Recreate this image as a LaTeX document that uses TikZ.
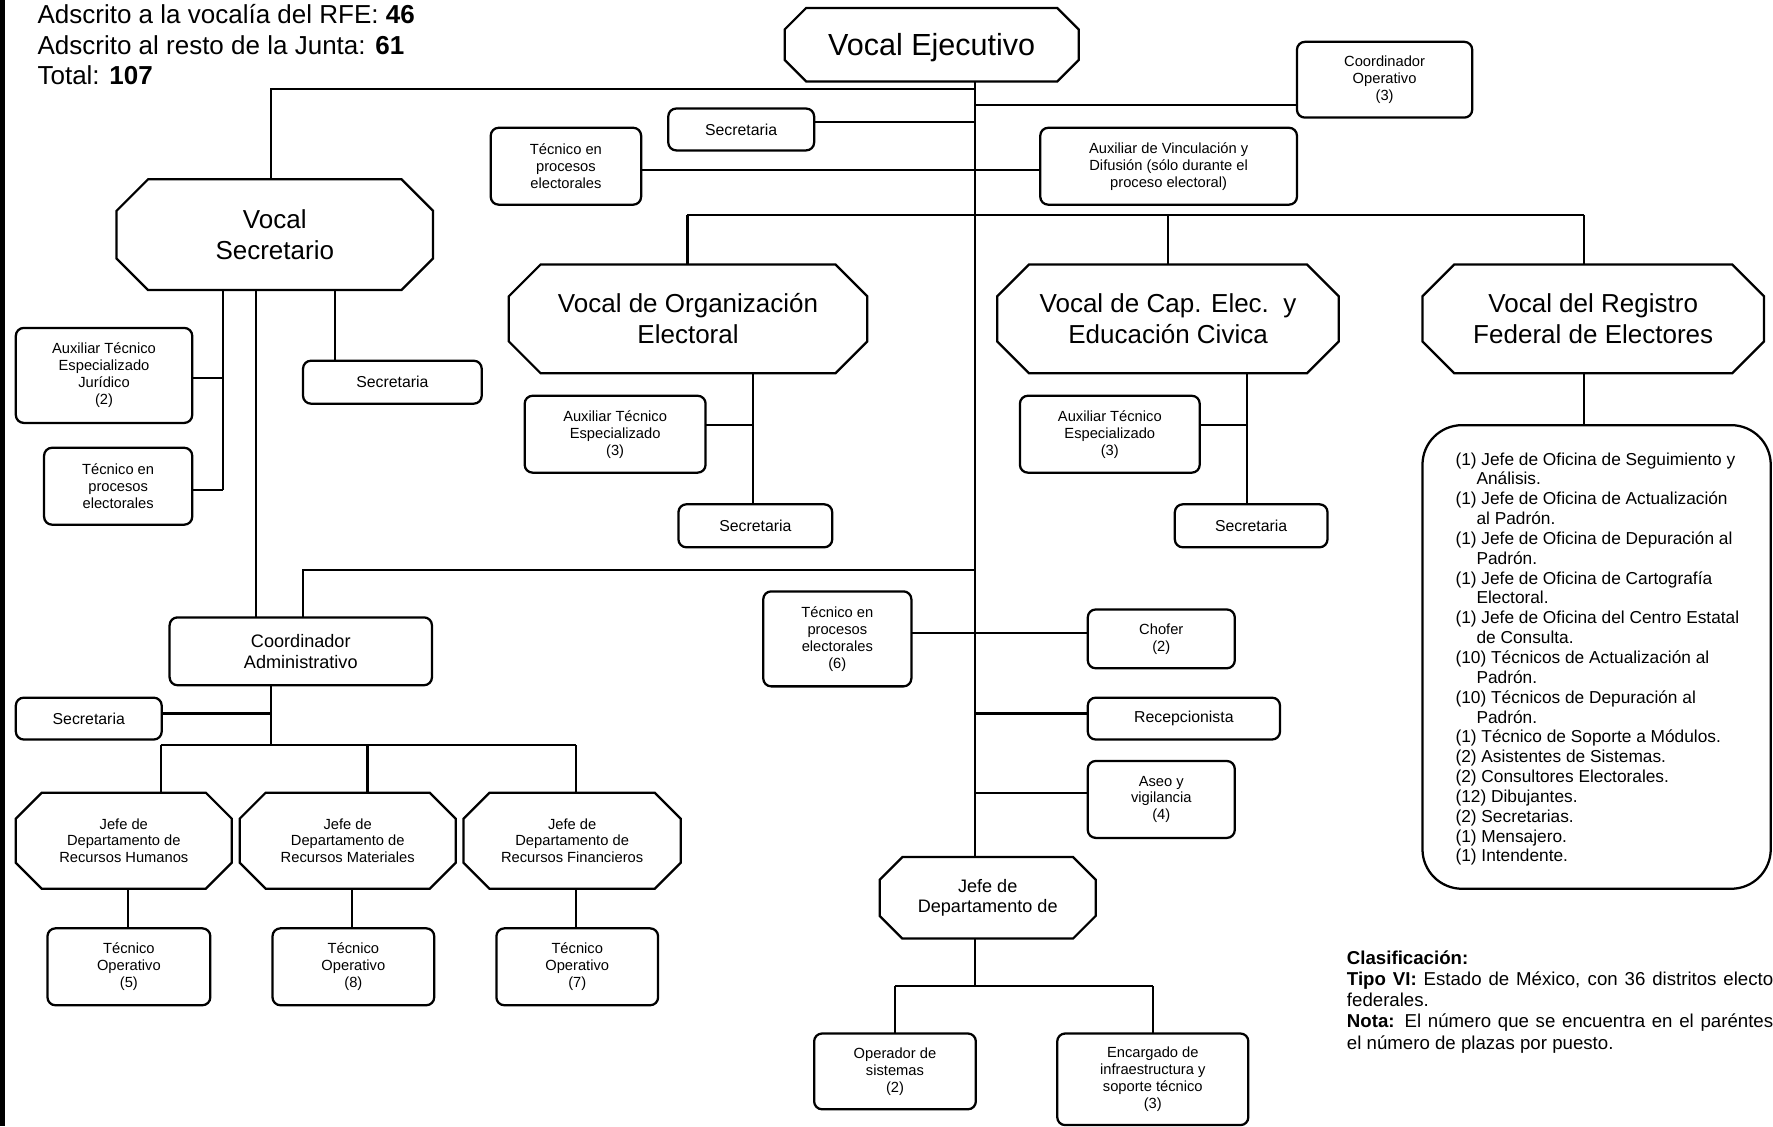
\documentclass[tikz,border=0pt]{standalone}
\usepackage{fontspec}
\setmainfont{Liberation Sans}
\usetikzlibrary{calc}

\newcommand\fVE{\fontsize{27}{31}\selectfont}
\newcommand\fVoc{\fontsize{23}{27.5}\selectfont}
\newcommand\fMid{\fontsize{16}{18.5}\selectfont}
\newcommand\fSm{\fontsize{13}{15}\selectfont}
\newcommand\fSec{\fontsize{14}{16}\selectfont}
\newcommand\fHead{\fontsize{23}{26.8}\selectfont}
\newcommand\fList{\fontsize{15.3}{17.55}\selectfont}
\newcommand\fClas{\fontsize{16.5}{18.6}\selectfont}

% name, cx, cy, w, h, cut, font, text
\newcommand{\octnode}[8]{%
  \node[octtext, minimum width=#4pt, minimum height=#5pt, font=#7] (#1) at (#2,#3) {#8};
  \draw[boxline] ($(#1.north west)+(#6pt,0pt)$) -- ($(#1.north east)+(-#6pt,0pt)$)
    -- ($(#1.north east)+(0pt,-#6pt)$) -- ($(#1.south east)+(0pt,#6pt)$)
    -- ($(#1.south east)+(-#6pt,0pt)$) -- ($(#1.south west)+(#6pt,0pt)$)
    -- ($(#1.south west)+(0pt,#6pt)$) -- ($(#1.north west)+(0pt,-#6pt)$) -- cycle;
}

\begin{document}
\begin{tikzpicture}[x=1pt,y=-1pt,
  conn/.style={line width=1.8pt},
  boxline/.style={line width=2pt, line join=miter},
  box/.style={draw, line width=2pt, rounded corners=7pt, align=center, inner sep=0pt, outer sep=0pt, font=\fSm},
  octtext/.style={align=center, inner sep=0pt, outer sep=0pt}]
\useasboundingbox (0,0) rectangle (1568,996);
\fill (0,0) rectangle (4,996);

% header
\node[anchor=north west, inner sep=0pt, align=left, font=\fHead] (head) at (33,4)
  {Adscrito a la vocalía del RFE: \textbf{46}\\Adscrito al resto de la Junta: \textbf{61}\\Total: \textbf{107}};

% octagons
\octnode{ve}{824}{39.5}{260}{65}{19}{\fVE}{\raisebox{-9.7pt}[0pt][0pt]{Vocal Ejecutivo}}
\octnode{vs}{243}{207.5}{280}{98}{28}{\fVoc}{Vocal\\Secretario}
\octnode{voe}{608.5}{282}{317}{96}{28}{\fVoc}{Vocal de Organización\\Electoral}
\octnode{vce}{1033}{282}{302}{96}{28}{\fVoc}{Vocal de Cap. Elec.\ \ y\\Educación Civica}
\octnode{vrfe}{1409}{282}{302}{96}{28}{\fVoc}{Vocal del Registro\\Federal de Electores}
\octnode{jrh}{109.5}{743.5}{191}{85}{23}{\fSm}{Jefe de\\Departamento de\\Recursos Humanos}
\octnode{jrm}{307.5}{743.5}{191}{85}{23}{\fSm}{Jefe de\\Departamento de\\Recursos Materiales}
\octnode{jrf}{506}{743.5}{192}{85}{23}{\fSm}{Jefe de\\Departamento de\\Recursos Financieros}
\octnode{jdd}{873.5}{794}{191}{72}{20}{\fMid}{Jefe de\\Departamento de}

% boxes
\node[box, minimum width=155pt, minimum height=67pt] (coordop) at (1224.5,70.5) {Coordinador\\Operativo\\(3)};
\node[box, minimum width=129pt, minimum height=37pt, font=\fSec] (sec1) at (655.5,114.5) {Secretaria};
\node[box, minimum width=133pt, minimum height=68pt] (tec1) at (500.5,147) {Técnico en\\procesos\\electorales};
\node[box, minimum width=227pt, minimum height=68pt] (auxvin) at (1033.5,147) {Auxiliar de Vinculación y\\Difusión (sólo durante el\\proceso electoral)};
\node[box, minimum width=156pt, minimum height=84pt] (auxjur) at (92,332) {Auxiliar Técnico\\Especializado\\Jurídico\\(2)};
\node[box, minimum width=131pt, minimum height=68pt] (tecvs) at (104.5,430) {Técnico en\\procesos\\electorales};
\node[box, minimum width=158pt, minimum height=38pt, font=\fSec] (secvs) at (347,338) {Secretaria};
\node[box, minimum width=232pt, minimum height=60pt, font=\fMid] (coordadm) at (266,576) {Coordinador\\Administrativo};
\node[box, minimum width=129pt, minimum height=37pt, font=\fSec] (secca) at (78.5,635.5) {Secretaria};
\node[box, minimum width=144pt, minimum height=68pt] (to5) at (114,855) {Técnico\\Operativo\\(5)};
\node[box, minimum width=143pt, minimum height=68pt] (to8) at (312.5,855) {Técnico\\Operativo\\(8)};
\node[box, minimum width=143pt, minimum height=68pt] (to7) at (510.5,855) {Técnico\\Operativo\\(7)};
\node[box, minimum width=160pt, minimum height=68pt] (auxoe) at (544,384) {Auxiliar Técnico\\Especializado\\(3)};
\node[box, minimum width=136pt, minimum height=38pt, font=\fSec] (secoe) at (668,465) {Secretaria};
\node[box, minimum width=159pt, minimum height=68pt] (auxce) at (981.5,384) {Auxiliar Técnico\\Especializado\\(3)};
\node[box, minimum width=135pt, minimum height=38pt, font=\fSec] (secce) at (1106.5,465) {Secretaria};
\node[box, minimum width=131pt, minimum height=84pt] (tec6) at (740.5,565) {Técnico en\\procesos\\electorales\\(6)};
\node[box, minimum width=130pt, minimum height=52pt] (chofer) at (1027,565) {Chofer\\(2)};
\node[box, minimum width=170pt, minimum height=37pt, font=\fSec] (recep) at (1047,635.5) {Recepcionista};
\node[box, minimum width=130pt, minimum height=68pt] (aseo) at (1027,707) {Aseo y\\vigilancia\\(4)};
\node[box, minimum width=143pt, minimum height=67pt] (opsis) at (791.5,947.5) {Operador de\\sistemas\\(2)};
\node[box, minimum width=169pt, minimum height=81pt] (encarg) at (1019.5,954.5) {Encargado de\\infraestructura y\\soporte técnico\\(3)};

% RFE list box
\node[draw, line width=2pt, rounded corners=35pt, minimum width=308pt, minimum height=410pt, inner sep=0pt, outer sep=0pt] (rfebox) at (1412,581) {};
\node[anchor=north west, inner sep=0pt, align=left, font=\fList] (rfetext) at (1287,400)
 {(1) Jefe de Oficina de Seguimiento y\\\hspace*{18.6pt}Análisis.\\
  (1) Jefe de Oficina de Actualización\\\hspace*{18.6pt}al Padrón.\\
  (1) Jefe de Oficina de Depuración al\\\hspace*{18.6pt}Padrón.\\
  (1) Jefe de Oficina de Cartografía\\\hspace*{18.6pt}Electoral.\\
  (1) Jefe de Oficina del Centro Estatal\\\hspace*{18.6pt}de Consulta.\\
  (10) Técnicos de Actualización al\\\hspace*{18.6pt}Padrón.\\
  (10) Técnicos de Depuración al\\\hspace*{18.6pt}Padrón.\\
  (1) Técnico de Soporte a Módulos.\\
  (2) Asistentes de Sistemas.\\
  (2) Consultores Electorales.\\
  (12) Dibujantes.\\
  (2) Secretarias.\\
  (1) Mensajero.\\
  (1) Intendente.};

% classification
\node[anchor=north west, inner sep=0pt, align=left, font=\fClas] (clasif) at (1191,841)
 {\textbf{Clasificación:}\\
  \hbox to 377pt{\textbf{Tipo VI:} Estado de México, con 36 distritos electo}\\
  federales.\\
  \hbox to 377pt{\textbf{Nota:} El número que se encuentra en el paréntes}\\
  el número de plazas por puesto.};

% ---------- connectors ----------
\coordinate (mv) at (862,0);
\draw[conn] (ve.south -| mv) -- (jdd.north -| mv);

\coordinate (j1) at (862,79);
\coordinate (vsx) at (240,0);
\draw[conn] (j1) -| (vs.north -| vsx);
\coordinate (j2) at (862,93);
\draw[conn] (j2) -- (j2 -| coordop.west);
\coordinate (j3) at (862,108);
\draw[conn] (j3) -- (j3 -| sec1.east);
\coordinate (j4) at (862,150);
\draw[conn] (j4 -| tec1.east) -- (j4 -| auxvin.west);

\coordinate (b1) at (608,190);
\coordinate (b3) at (1401,190);
\draw[conn] (b1) -- (b3);
\draw[conn] (b1) -- (b1 |- voe.north);
\draw[conn] (vce.north |- b1) -- (vce.north);
\draw[conn] (b3) -- (b3 |- vrfe.north);

\coordinate (oe) at (666,376);
\draw[conn] (oe |- voe.south) -- (oe |- secoe.north);
\draw[conn] (oe) -- (oe -| auxoe.east);
\coordinate (ce) at (1103,376);
\draw[conn] (ce |- vce.south) -- (ce |- secce.north);
\draw[conn] (ce) -- (ce -| auxce.east);
\draw[conn] (b3 |- vrfe.south) -- (b3 |- rfebox.north);

\coordinate (s1) at (197,334);
\coordinate (s2) at (197,433);
\draw[conn] (s1 |- vs.south) -- (s2);
\draw[conn] (s1) -- (s1 -| auxjur.east);
\draw[conn] (s2) -- (s2 -| tecvs.east);
\coordinate (s3) at (226,0);
\draw[conn] (s3 |- vs.south) -- (s3 |- coordadm.north);
\coordinate (s4) at (296,0);
\draw[conn] (s4 |- vs.south) -- (s4 |- secvs.north);

\coordinate (j5) at (862,504);
\coordinate (ca) at (268,504);
\draw[conn] (j5) -- (ca) -- (ca |- coordadm.north);

\coordinate (c1) at (240,631);
\coordinate (c2) at (240,659);
\draw[conn] (c1 |- coordadm.south) -- (c2);
\draw[conn] (c1) -- (c1 -| secca.east);
\coordinate (r1) at (142,659);
\coordinate (r2) at (325,659);
\coordinate (r3) at (509,659);
\draw[conn] (r1) -- (r3);
\draw[conn] (r1) -- (r1 |- jrh.north);
\draw[conn] (r2) -- (r2 |- jrm.north);
\draw[conn] (r3) -- (r3 |- jrf.north);
\coordinate (t1) at (113,0);
\coordinate (t2) at (311,0);
\coordinate (t3) at (509,0);
\draw[conn] (t1 |- jrh.south) -- (t1 |- to5.north);
\draw[conn] (t2 |- jrm.south) -- (t2 |- to8.north);
\draw[conn] (t3 |- jrf.south) -- (t3 |- to7.north);

\coordinate (j6) at (862,560);
\draw[conn] (j6 -| tec6.east) -- (j6 -| chofer.west);
\coordinate (j7) at (862,631);
\draw[conn] (j7) -- (j7 -| recep.west);
\coordinate (j8) at (862,701);
\draw[conn] (j8) -- (j8 -| aseo.west);

\coordinate (d0) at (862,872);
\draw[conn] (d0 |- jdd.south) -- (d0);
\draw[conn] (opsis.north |- d0) -- (encarg.north |- d0);
\draw[conn] (opsis.north |- d0) -- (opsis.north);
\draw[conn] (encarg.north |- d0) -- (encarg.north);
\end{tikzpicture}
\end{document}
